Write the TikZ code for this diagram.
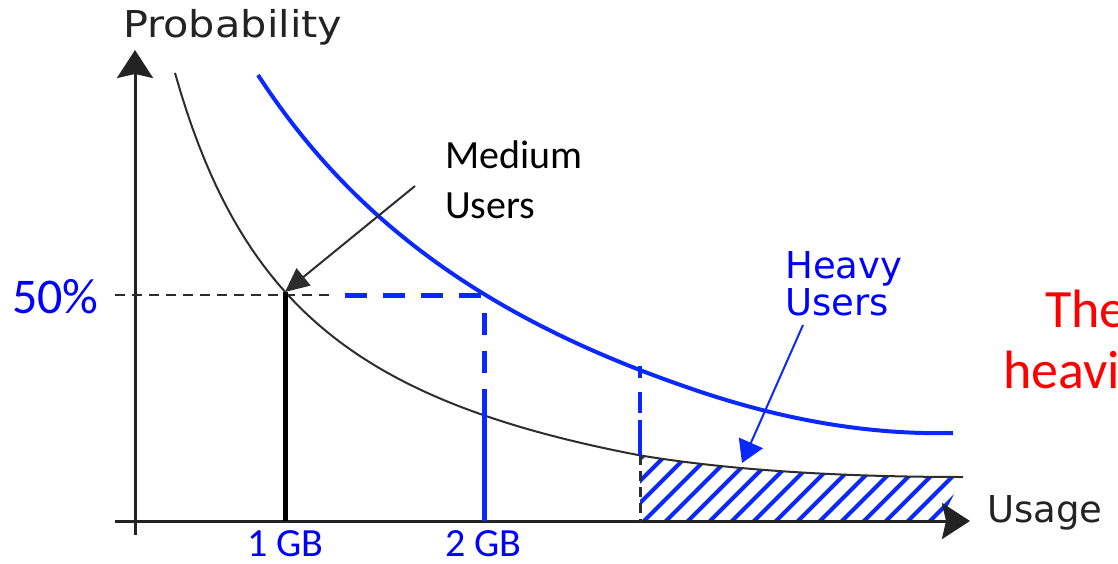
\documentclass[tikz,border=0pt]{standalone}
\usepackage{fontspec}
\setmainfont{Carlito}
\newfontfamily\verdfont{DejaVu Sans}
\usetikzlibrary{arrows.meta, positioning}

\definecolor{lineblue}{RGB}{10,40,255}
\definecolor{textblue}{RGB}{0,0,255}
\definecolor{axisgray}{RGB}{35,35,35}
\definecolor{curvegray}{RGB}{45,45,45}

\begin{document}
\begin{tikzpicture}[x=1pt, y=-1pt,
    axis/.style={axisgray, line width=3pt, -{Stealth[length=28pt, width=36pt, inset=4pt]}},
    lowcurve/.style={curvegray, line width=2pt},
    highcurve/.style={lineblue, line width=4pt},
    guide/.style={curvegray, line width=2pt, dash pattern=on 10pt off 7pt},
    blueguide/.style={lineblue, line width=5pt, dash pattern=on 22pt off 16pt},
    pointer/.style={curvegray, line width=2pt, -{Triangle[length=24pt, width=22pt]}},
    bluepointer/.style={lineblue, line width=2pt, -{Triangle[length=22pt, width=26pt]}},
    axislabel/.style={font=\verdfont\fontsize{37}{40}\selectfont, text=axisgray, inner sep=0pt},
    tick/.style={font=\fontsize{40}{44}\selectfont, text=textblue, inner sep=0pt, text depth=0pt, anchor=base west}
]
\useasboundingbox (0,0) rectangle (1118,564);

% Hatched tail under the lower curve
\begin{scope}
  \clip (640,521) -- (640,455.4) .. controls (740,472) and (860,477) .. (963,477) -- (940,521) -- cycle;
  \foreach \x in {520,542,...,980}
    \draw[lineblue, line width=4pt] (\x,535) -- ++(120,-120);
\end{scope}

% Axes
\coordinate (origin) at (135,521);
\coordinate (xstart) at (115,521);
\coordinate (xend) at (970,521);
\coordinate (ystart) at (135,535);
\coordinate (yend) at (135,50);
\draw[axis] (xstart) -- (xend);
\draw[axis] (ystart) -- (yend);
\node[axislabel, anchor=base west, xscale=1.12] (ylab) at (123,38) {Probability};
\node[axislabel, anchor=base west] (xlab) at (987,522) {Usage};

% Curves (hyperbolas, flattened at the tail)
\draw[lowcurve] plot[domain=175:640, samples=80] (\x, {570.7 - 698.03/((\x-34.76)/100)})
  .. controls (740,472) and (860,477) .. (963,477);
\draw[highcurve] plot[domain=258:700, samples=80] (\x, {668.3 - 2291.18/((\x+128.2)/100)})
  .. controls (785,420.1) and (870,435) .. (953,433);

% Reference points
\coordinate (half) at (285,292);
\coordinate (halfblue) at (484,295);
\coordinate (onegb) at (285,521);
\coordinate (twogb) at (484,521);
\coordinate (twogbdash) at (484,390);
\coordinate (tailtop) at (640,366);
\coordinate (tailmid) at (640,455);
\coordinate (tailbot) at (640,521);

% 50% guides
\draw[guide] (xstart |- halfblue) -- (335,295);
\draw[blueguide] (345,295) -- (halfblue);
\draw[blueguide] (484,313) -- (twogbdash);
\draw[lineblue, line width=5pt] (twogbdash) -- (twogb);
\draw[black, line width=5pt] (half) -- (onegb);

% Heavy user threshold
\draw[lineblue, line width=4pt, dash pattern=on 12pt off 14pt on 21pt off 7pt on 35pt off 0pt] (tailtop) -- (tailmid);
\draw[curvegray, line width=3pt, dash pattern=on 10pt off 6pt] (tailmid) -- (tailbot);

% Labels
\node[tick, font=\fontsize{50}{54}\selectfont] (pct) at (12,313) {50\%};
\node[tick] (gb1) at (247,556) {1 GB};
\node[tick] (gb2) at (445,556) {2 GB};

\node[anchor=base west, align=left, inner sep=0pt, font=\fontsize{40}{50}\selectfont] (medium) at (445,218) {Medium\\Users};
\coordinate (medtail) at (415,186);
\draw[pointer] (medtail) -- (half);

\node[anchor=base west, align=left, inner sep=0pt, text=textblue,
  font=\verdfont\fontsize{37}{37}\selectfont] (heavy) at (785,315) {Heavy\\Users};
\coordinate (heavytail) at (803,325);
\coordinate (heavytip) at (742,463);
\draw[bluepointer] (heavytail) -- (heavytip);

\node[anchor=base west, inner sep=0pt, text=red, font=\fontsize{54}{60}\selectfont] (note1) at (1045,327) {The};
\node[anchor=base west, inner sep=0pt, text=red, font=\fontsize{54}{60}\selectfont] (note2) at (1003,388) {heavi};

\end{tikzpicture}
\end{document}
